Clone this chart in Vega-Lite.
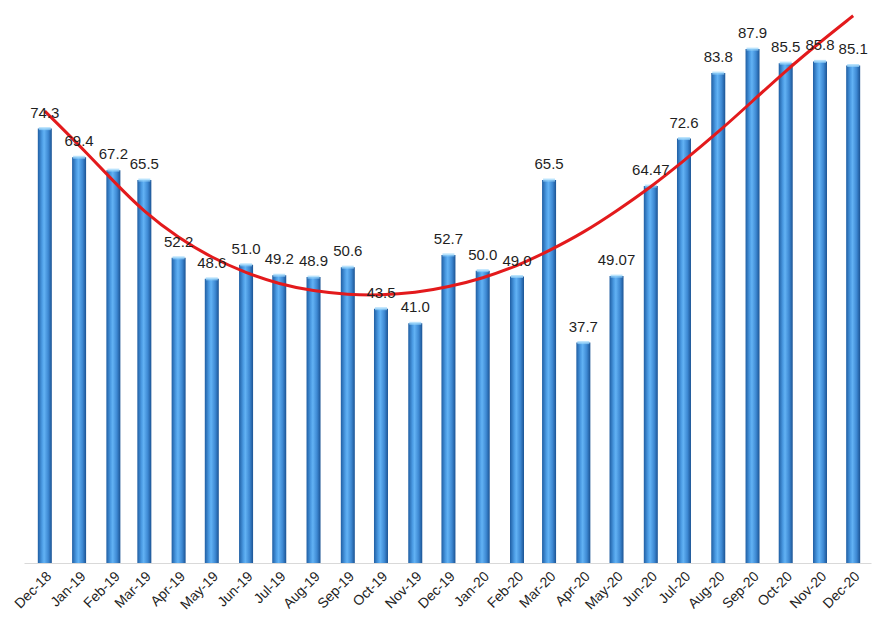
{
  "$schema": "https://vega.github.io/schema/vega-lite/v6.json",
  "width": 847,
  "height": 563,
  "autosize": {"type": "none"},
  "padding": {"left": 24, "top": 0, "right": 10, "bottom": 63},
  "background": "white",
  "config": {"view": {"stroke": null}},
  "data": {
    "values": [
      {"date": "2018-12-01", "v": 74.3, "label": "74.3", "trend": 77.3},
      {"date": "2019-01-01", "v": 69.4, "label": "69.4", "trend": 71.5},
      {"date": "2019-02-01", "v": 67.2, "label": "67.2", "trend": 65.3},
      {"date": "2019-03-01", "v": 65.5, "label": "65.5", "trend": 60.0},
      {"date": "2019-04-01", "v": 52.2, "label": "52.2", "trend": 55.6},
      {"date": "2019-05-01", "v": 48.6, "label": "48.6", "trend": 52.2},
      {"date": "2019-06-01", "v": 51.0, "label": "51.0", "trend": 49.6},
      {"date": "2019-07-01", "v": 49.2, "label": "49.2", "trend": 47.7},
      {"date": "2019-08-01", "v": 48.9, "label": "48.9", "trend": 46.5},
      {"date": "2019-09-01", "v": 50.6, "label": "50.6", "trend": 45.9},
      {"date": "2019-10-01", "v": 43.5, "label": "43.5", "trend": 45.8},
      {"date": "2019-11-01", "v": 41.0, "label": "41.0", "trend": 46.2},
      {"date": "2019-12-01", "v": 52.7, "label": "52.7", "trend": 47.2},
      {"date": "2020-01-01", "v": 50.0, "label": "50.0", "trend": 48.7},
      {"date": "2020-02-01", "v": 49.0, "label": "49.0", "trend": 50.8},
      {"date": "2020-03-01", "v": 65.5, "label": "65.5", "trend": 53.4},
      {"date": "2020-04-01", "v": 37.7, "label": "37.7", "trend": 56.5},
      {"date": "2020-05-01", "v": 49.07, "label": "49.07", "trend": 60.2},
      {"date": "2020-06-01", "v": 64.47, "label": "64.47", "trend": 64.3},
      {"date": "2020-07-01", "v": 72.6, "label": "72.6", "trend": 68.8},
      {"date": "2020-08-01", "v": 83.8, "label": "83.8", "trend": 73.7},
      {"date": "2020-09-01", "v": 87.9, "label": "87.9", "trend": 79.0},
      {"date": "2020-10-01", "v": 85.5, "label": "85.5", "trend": 84.2},
      {"date": "2020-11-01", "v": 85.8, "label": "85.8", "trend": 89.1},
      {"date": "2020-12-01", "v": 85.1, "label": "85.1", "trend": 93.6}
    ]
  },
  "encoding": {
    "x": {
      "field": "date",
      "type": "temporal",
      "scale": {
        "domain": [1542386880000, 1607783040000],
        "nice": false
      },
      "axis": {
        "title": null,
        "domain": true,
        "domainColor": "#d9d9d9",
        "domainWidth": 1,
        "ticks": false,
        "grid": false,
        "labelExpr": "utcFormat(datum.value, '%b-%y')",
        "values": [1543622400000, 1546300800000, 1548979200000, 1551398400000, 1554076800000, 1556668800000, 1559347200000, 1561939200000, 1564617600000, 1567296000000, 1569888000000, 1572566400000, 1575158400000, 1577836800000, 1580515200000, 1583020800000, 1585699200000, 1588291200000, 1590969600000, 1593561600000, 1596240000000, 1598918400000, 1601510400000, 1604188800000, 1606780800000],
        "labelAngle": -45,
        "labelAlign": "right",
        "labelBaseline": "middle",
        "labelPadding": 11,
        "labelOffset": 4,
        "labelFont": "Liberation Sans",
        "labelFontSize": 14,
        "labelColor": "#1f1f1f",
        "labelOverlap": false,
        "labelFlush": false,
        "labelBound": false
      }
    },
    "y": {
      "field": "v",
      "type": "quantitative",
      "scale": {"domain": [0, 96.3], "nice": false, "zero": true},
      "axis": null
    }
  },
  "layer": [
    {
      "mark": {
        "type": "bar",
        "width": 14,
        "color": {
          "gradient": "linear",
          "x1": 0, "x2": 1, "y1": 0, "y2": 0,
          "stops": [
            {"offset": 0, "color": "#1f5ea3"},
            {"offset": 0.3, "color": "#4b9be3"},
            {"offset": 0.45, "color": "#62b2f4"},
            {"offset": 0.75, "color": "#3d88d2"},
            {"offset": 1, "color": "#1b5393"}
          ]
        }
      }
    },
    {
      "mark": {"type": "tick", "orient": "horizontal", "size": 12, "thickness": 3, "color": "#9ad6fb"}
    },
    {
      "mark": {"type": "line", "color": "#e31a1c", "strokeWidth": 3, "interpolate": "basis"},
      "encoding": {"y": {"field": "trend", "type": "quantitative"}}
    },
    {
      "mark": {
        "type": "text",
        "font": "Liberation Sans",
        "fontSize": 15,
        "color": "#1f1f1f",
        "baseline": "alphabetic",
        "dy": -11
      },
      "encoding": {"text": {"field": "label"}}
    }
  ]
}
